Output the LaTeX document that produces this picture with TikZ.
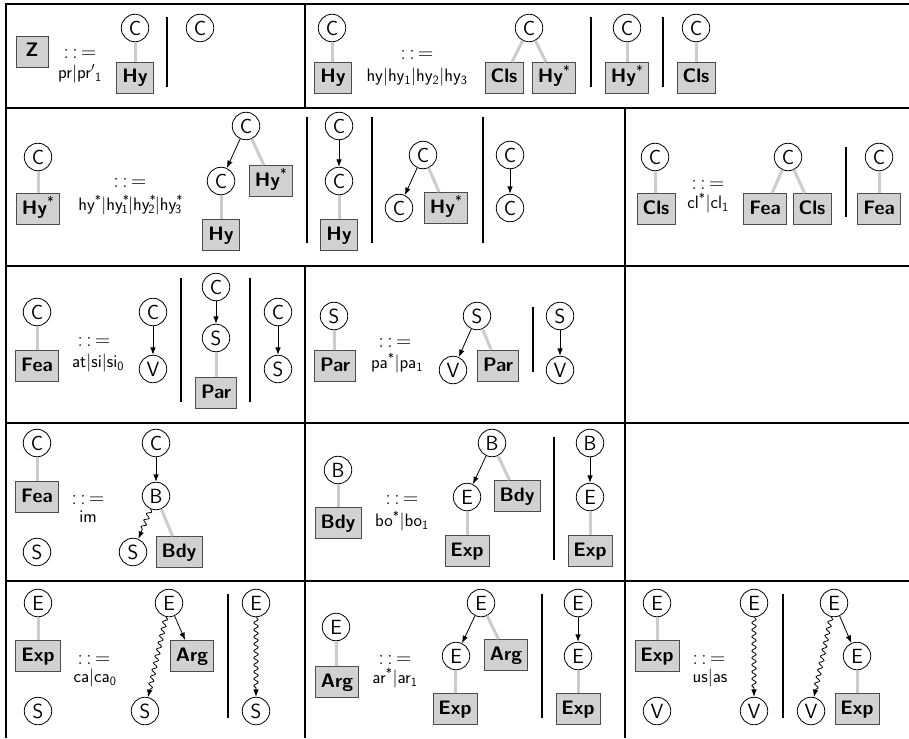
\RequirePackage{fix-cm}
\documentclass[tikz,border=0pt]{standalone}
\usetikzlibrary{arrows.meta,decorations.pathmorphing}
\newcommand\mysb[1]{\textsubscript{#1}}
\newcommand\mysp[1]{\textsuperscript{#1}}
\tikzset{
 nt/.style={circle,draw,line width=0.8pt,minimum size=27.5pt,inner sep=0pt,font=\fontsize{20.5}{20.5}\selectfont\sffamily},
 tb/.style={rectangle,draw=black!70,line width=0.8pt,fill=black!18,minimum height=31pt,inner xsep=5.5pt,text height=14pt,text depth=4pt,font=\fontsize{19.5}{19.5}\selectfont\sffamily\bfseries},
 gl/.style={draw=black!20,line width=3pt},
 ar/.style={draw,line width=0.8pt,-{Latex[length=7.5pt,width=5.5pt]}},
 wv/.style={draw,line width=0.8pt,-{Latex[length=7.5pt,width=5.5pt]},decorate,decoration={snake,amplitude=2.2pt,segment length=7pt,post length=7pt}},
 bar/.style={line width=2.6pt},
 gridl/.style={line width=2.6pt},
 eq/.style={font=\fontsize{21}{21}\selectfont,inner sep=0pt},
 lab/.style={font=\fontsize{18}{18}\selectfont\sffamily,inner sep=0pt},
}
\newcommand\defeq{$:\,:\,=$}
\newcommand\bv{\textbar}
\begin{document}
\begin{tikzpicture}[x=1pt,y=-1pt]
\useasboundingbox (0,0) rectangle (909,738);
% grid
\draw[gridl] (4.7,4) -- (909,4);
\draw[gridl] (6,2.7) -- (6,738);
\foreach \yy in {108,266,423,581} \draw[gridl] (4.7,\yy) -- (909,\yy);
\draw[gridl] (305,4) -- (305,108);
\draw[gridl] (625,108) -- (625,266);
\draw[gridl] (305,266) -- (305,738);
\draw[gridl] (625,266) -- (625,738);

% ---------- row 1 cell 1
\node[tb,minimum width=32pt] (z) at (32,52) {Z};
\node[eq] (e11) at (80,54) {\defeq};
\node[lab] (l11) at (80,74) {pr\bv pr$'$\mysb{1}};
\node[nt] (a1) at (135,28) {C};
\node[tb] (a2) at (135,78) {Hy};
\draw[gl] (a1) -- (a2);
\draw[bar] (167,17) -- (167,87);
\node[nt] (a3) at (200,28) {C};

% ---------- row 1 cell 2
\node[nt] (b1) at (332,28) {C};
\node[tb] (b2) at (333,78) {Hy};
\draw[gl] (b1) -- (b2);
\node[eq] (e12) at (417,55) {\defeq};
\node[lab] (l12) at (417,77) {hy\bv hy\mysb{1}\bv hy\mysb{2}\bv hy\mysb{3}};
\node[nt] (b3) at (529,28) {C};
\node[tb] (b4) at (504,78) {Cls};
\node[tb] (b5) at (554,78) {Hy\mysp{\mdseries*}};
\draw[gl] (b3) -- (b4);
\draw[gl] (b3) -- (b5);
\draw[bar] (591,17) -- (591,87);
\node[nt] (b6) at (627,28) {C};
\node[tb] (b7) at (627,78) {Hy\mysp{\mdseries*}};
\draw[gl] (b6) -- (b7);
\draw[bar] (663,17) -- (663,87);
\node[nt] (b8) at (696,28) {C};
\node[tb] (b9) at (696,78) {Cls};
\draw[gl] (b8) -- (b9);

% ---------- row 2 cell 1
\node[nt] (c1) at (38,157) {C};
\node[tb] (c2) at (38,209) {Hy\mysp{\mdseries*}};
\draw[gl] (c1) -- (c2);
\node[eq] (e21) at (130,183) {\defeq};
\node[lab] (l21) at (130,205) {hy\mysp{*}\bv hy\mysp{*}\hspace{-0.45em}\mysb{1}\bv hy\mysp{*}\hspace{-0.45em}\mysb{2}\bv hy\mysp{*}\hspace{-0.45em}\mysb{3}};
\node[nt] (c3) at (246,126) {C};
\node[nt] (c4) at (221,181) {C};
\node[tb] (c5) at (271,181) {Hy\mysp{\mdseries*}};
\node[tb] (c6) at (221,235) {Hy};
\draw[ar] (c3) -- (c4);
\draw[gl] (c3) -- (c5);
\draw[gl] (c4) -- (c6);
\draw[bar] (307,117) -- (307,243);
\node[nt] (c7) at (339,126) {C};
\node[nt] (c8) at (339,181) {C};
\node[tb] (c9) at (339,235) {Hy};
\draw[ar] (c7) -- (c8);
\draw[gl] (c8) -- (c9);
\draw[bar] (372,117) -- (372,243);
\node[nt] (c10) at (423,155) {C};
\node[nt] (c11) at (399,208) {C};
\node[tb] (c12) at (446,208) {Hy\mysp{\mdseries*}};
\draw[ar] (c10) -- (c11);
\draw[gl] (c10) -- (c12);
\draw[bar] (483,117) -- (483,243);
\node[nt] (c13) at (510,155) {C};
\node[nt] (c14) at (510,208) {C};
\draw[ar] (c13) -- (c14);

% ---------- row 2 cell 2
\node[nt] (d1) at (655,157) {C};
\node[tb] (d2) at (656,209) {Cls};
\draw[gl] (d1) -- (d2);
\node[eq] (e22) at (708,185) {\defeq};
\node[lab] (l22) at (708,203) {cl\mysp{*}\bv cl\mysb{1}};
\node[nt] (d3) at (788,157) {C};
\node[tb] (d4) at (765,209) {Fea};
\node[tb] (d5) at (812,209) {Cls};
\draw[gl] (d3) -- (d4);
\draw[gl] (d3) -- (d5);
\draw[bar] (846,147) -- (846,217);
\node[nt] (d6) at (879,157) {C};
\node[tb] (d7) at (879,209) {Fea};
\draw[gl] (d6) -- (d7);

% ---------- row 3 cell 1
\node[nt] (f1) at (37,312) {C};
\node[tb] (f2) at (37,366) {Fea};
\draw[gl] (f1) -- (f2);
\node[eq] (e31) at (94,342) {\defeq};
\node[lab] (l31) at (98,363) {at\bv si\bv si\mysb{0}};
\node[nt] (f3) at (153,312) {C};
\node[nt] (f4) at (153,369) {V};
\draw[ar] (f3) -- (f4);
\draw[bar] (181,278) -- (181,402);
\node[nt] (f5) at (216,287) {C};
\node[nt] (f6) at (216,338) {S};
\node[tb] (f7) at (216,393) {Par};
\draw[ar] (f5) -- (f6);
\draw[gl] (f6) -- (f7);
\draw[bar] (250,278) -- (250,402);
\node[nt] (f8) at (278,312) {C};
\node[nt] (f9) at (278,369) {S};
\draw[ar] (f8) -- (f9);

% ---------- row 3 cell 2
\node[nt] (g1) at (334,316) {S};
\node[tb] (g2) at (335,366) {Par};
\draw[gl] (g1) -- (g2);
\node[eq] (e32) at (395,343) {\defeq};
\node[lab] (l32) at (397,363) {pa\mysp{*}\bv pa\mysb{1}};
\node[nt] (g3) at (477,316) {S};
\node[nt] (g4) at (453,370) {V};
\node[tb] (g5) at (498,366) {Par};
\draw[ar] (g3) -- (g4);
\draw[gl] (g3) -- (g5);
\draw[bar] (533,307) -- (533,372);
\node[nt] (g6) at (560,316) {S};
\node[nt] (g7) at (560,370) {V};
\draw[ar] (g6) -- (g7);

% ---------- row 4 cell 1
\node[nt] (h1) at (37,443) {C};
\node[tb] (h2) at (37,497) {Fea};
\draw[gl] (h1) -- (h2);
\node[nt] (h3) at (37,552) {S};
\node[eq] (e41) at (88,500) {\defeq};
\node[lab] (l41) at (88,517) {im};
\node[nt] (h4) at (156,443) {C};
\node[nt] (h5) at (156,496) {B};
\node[nt] (h6) at (133,552) {S};
\node[tb] (h7) at (179,552) {Bdy};
\draw[ar] (h4) -- (h5);
\draw[wv] (h5) -- (h6);
\draw[gl] (h5) -- (h7);

% ---------- row 4 cell 2
\node[nt] (k1) at (338,470) {B};
\node[tb] (k2) at (338,523) {Bdy};
\draw[gl] (k1) -- (k2);
\node[eq] (e42) at (402,500) {\defeq};
\node[lab] (l42) at (402,521) {bo\mysp{*}\bv bo\mysb{1}};
\node[nt] (k3) at (492,443) {B};
\node[nt] (k4) at (467,497) {E};
\node[tb] (k5) at (517,496) {Bdy};
\node[tb] (k6) at (467,551) {Exp};
\draw[ar] (k3) -- (k4);
\draw[gl] (k3) -- (k5);
\draw[gl] (k4) -- (k6);
\draw[bar] (554,437) -- (554,560);
\node[nt] (k7) at (590,443) {B};
\node[nt] (k8) at (590,497) {E};
\node[tb] (k9) at (590,551) {Exp};
\draw[ar] (k7) -- (k8);
\draw[gl] (k8) -- (k9);

% ---------- row 5 cell 1
\node[nt] (m1) at (38,603) {E};
\node[tb] (m2) at (38,656) {Exp};
\draw[gl] (m1) -- (m2);
\node[nt] (m3) at (38,711) {S};
\node[eq] (e51) at (94,660) {\defeq};
\node[lab] (l51) at (95,678) {ca\bv ca\mysb{0}};
\node[nt] (m4) at (169,603) {E};
\node[tb] (m5) at (192,656) {Arg};
\node[nt] (m6) at (145,711) {S};
\draw[ar] (m4) -- (m5);
\draw[wv] (m4) -- (m6);
\draw[bar] (228,594) -- (228,718);
\node[nt] (m7) at (256,603) {E};
\node[nt] (m8) at (256,711) {S};
\draw[wv] (m7) -- (m8);

% ---------- row 5 cell 2
\node[nt] (n1) at (336,627) {E};
\node[tb] (n2) at (337,682) {Arg};
\draw[gl] (n1) -- (n2);
\node[eq] (e52) at (395,660) {\defeq};
\node[lab] (l52) at (395,678) {ar\mysp{*}\bv ar\mysb{1}};
\node[nt] (n3) at (481,603) {E};
\node[nt] (n4) at (456,656) {E};
\node[tb] (n5) at (506,655) {Arg};
\node[tb] (n6) at (455,709) {Exp};
\draw[ar] (n3) -- (n4);
\draw[gl] (n3) -- (n5);
\draw[gl] (n4) -- (n6);
\draw[bar] (542,594) -- (542,718);
\node[nt] (n7) at (578,603) {E};
\node[nt] (n8) at (578,656) {E};
\node[tb] (n9) at (578,709) {Exp};
\draw[ar] (n7) -- (n8);
\draw[gl] (n8) -- (n9);

% ---------- row 5 cell 3
\node[nt] (p1) at (657,603) {E};
\node[tb] (p2) at (657,656) {Exp};
\draw[gl] (p1) -- (p2);
\node[nt] (p3) at (657,711) {V};
\node[eq] (e53) at (709,660) {\defeq};
\node[lab] (l53) at (710,678) {us\bv as};
\node[nt] (p4) at (754,603) {E};
\node[nt] (p5) at (754,711) {V};
\draw[wv] (p4) -- (p5);
\draw[bar] (783,594) -- (783,718);
\node[nt] (p6) at (834,603) {E};
\node[nt] (p7) at (857,656) {E};
\node[nt] (p8) at (811,711) {V};
\node[tb] (p9) at (857,709) {Exp};
\draw[ar] (p6) -- (p7);
\draw[wv] (p6) -- (p8);
\draw[gl] (p7) -- (p9);
\end{tikzpicture}
\end{document}
